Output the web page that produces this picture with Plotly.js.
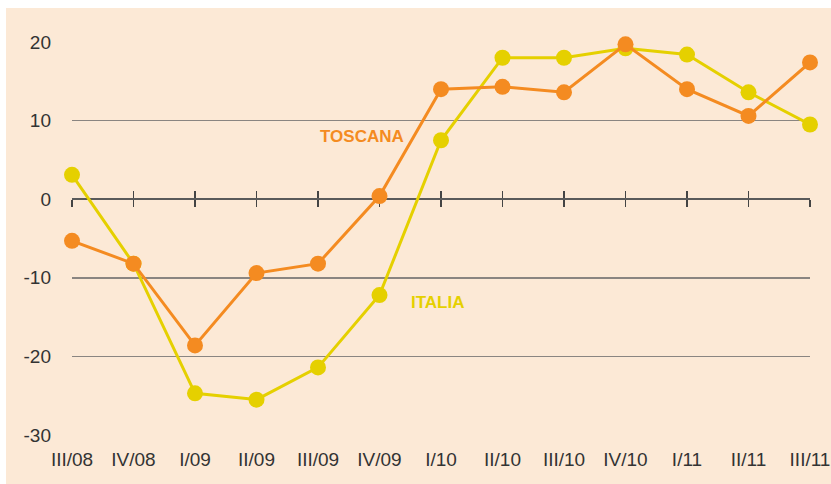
<!DOCTYPE html>
<html>
<head>
<meta charset="utf-8">
<script src="https://cdn.plot.ly/plotly-3.0.1.min.js"></script>
<style>html,body{margin:0;padding:0;background:#fff;}#chart{width:831px;height:484px;}</style>
</head>
<body>
<div id="chart"></div>
<script>
const quarters = ["III/08","IV/08","I/09","II/09","III/09","IV/09","I/10","II/10","III/10","IV/10","I/11","II/11","III/11"];
const toscana = [-5.3,-8.2,-18.6,-9.4,-8.2,0.4,14.0,14.3,13.6,19.7,14.0,10.6,17.4];
const italia  = [3.1,-8.2,-24.7,-25.5,-21.4,-12.2,7.5,18.0,18.0,19.2,18.4,13.6,9.5];
const yTicks = [-30,-20,-10,0,10,20];
const seriesNames = ["ITALIA","TOSCANA"];

const idx = quarters.map((q,i)=>i);
const ORANGE = "#F48B21", YELLOW = "#E5D000", BG = "#FCE9D6";

const traces = [
  {x: idx, y: italia, name: seriesNames[0], type: "scatter", mode: "lines+markers",
   line: {color: YELLOW, width: 3}, marker: {color: YELLOW, size: 16}, cliponaxis: false},
  {x: idx, y: toscana, name: seriesNames[1], type: "scatter", mode: "lines+markers",
   line: {color: ORANGE, width: 3}, marker: {color: ORANGE, size: 16}, cliponaxis: false},
  {x: [], y: [], xaxis: "x2", yaxis: "y", showlegend: false, hoverinfo: "skip"},
  {x: [], y: [], xaxis: "x3", yaxis: "y", showlegend: false, hoverinfo: "skip"}
];

const zeroAxis = (dir) => ({
  overlaying: "x", anchor: "free", position: 0.6, range: [0, 12],
  tickvals: idx, ticks: dir, ticklen: 7, tickwidth: 1.5, tickcolor: "#444",
  showline: true, linecolor: "#5a5a5a", linewidth: 2, showticklabels: false,
  showgrid: false, zeroline: false, layer: "below traces", fixedrange: true
});

const layout = {
  width: 831, height: 484,
  margin: {l: 72, r: 21, t: 42, b: 49},
  paper_bgcolor: BG, plot_bgcolor: "rgba(0,0,0,0)",
  showlegend: false,
  font: {family: "Liberation Sans, Arial, sans-serif", color: "#333"},
  xaxis: {range: [0, 12], tickvals: idx, ticktext: quarters, showgrid: false, zeroline: false,
          showline: false, ticks: "", tickfont: {size: 19, color: "#333"}, ticklabelstandoff: 11},
  xaxis2: zeroAxis("outside"),
  xaxis3: zeroAxis("inside"),
  yaxis: {range: [-30, 20], tickvals: yTicks, ticktext: yTicks.map(String), showgrid: true,
          gridcolor: "#8a8581", gridwidth: 1.6, zeroline: false, showline: false, ticks: "",
          tickfont: {size: 19, color: "#333"}, ticklabelstandoff: 20},
  shapes: [
    {type: "rect", xref: "paper", yref: "paper", x0: -0.2, x1: 1.2, y0: 1.0865, y1: 1.3,
     fillcolor: "#fff", line: {width: 0}, layer: "below"},
    {type: "rect", xref: "paper", yref: "paper", x0: -0.2, x1: -0.0894, y0: -0.3, y1: 1.3,
     fillcolor: "#fff", line: {width: 0}, layer: "below"}
  ],
  annotations: [
    {x: 4.72, y: 8.0, xref: "x", yref: "y", text: "<b>" + seriesNames[1] + "</b>", showarrow: false,
     font: {size: 17, color: ORANGE, family: "Liberation Sans, Arial, sans-serif"}},
    {x: 5.95, y: -13.1, xref: "x", yref: "y", text: "<b>" + seriesNames[0] + "</b>", showarrow: false,
     font: {size: 17, color: YELLOW, family: "Liberation Sans, Arial, sans-serif"}}
  ]
};

Plotly.newPlot("chart", traces, layout, {displayModeBar: false, staticPlot: true});
</script>
</body>
</html>
